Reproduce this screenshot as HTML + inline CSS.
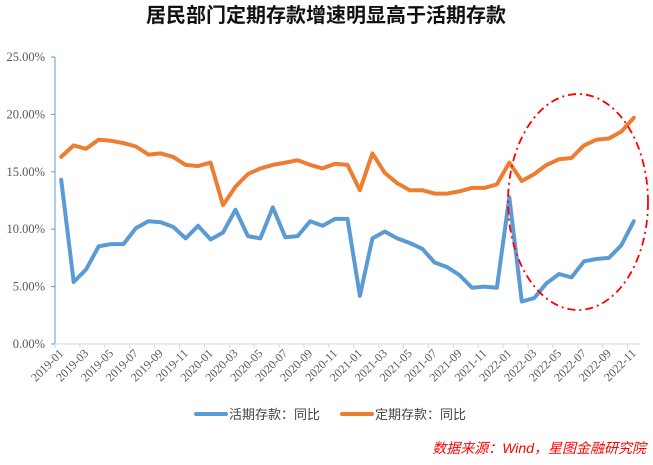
<!DOCTYPE html>
<html><head><meta charset="utf-8">
<style>
html,body{margin:0;padding:0;background:#fff;}
body{width:653px;height:460px;overflow:hidden;font-family:"Liberation Sans","Noto Sans CJK SC",sans-serif;}
</style></head>
<body>
<svg id="chart" width="653" height="460" xmlns="http://www.w3.org/2000/svg">
<text x="326" y="22" text-anchor="middle" font-size="20" font-weight="bold" font-family="Liberation Sans, Noto Sans CJK SC, sans-serif" fill="#111">居民部门定期存款增速明显高于活期存款</text>
<g id="axes"></g>
<g id="series"></g>
<ellipse cx="578" cy="202" rx="70" ry="108" fill="none" stroke="#ff0000" stroke-width="1.8" stroke-dasharray="8,4,2,4"/>
<g>
<line x1="196" y1="414" x2="226" y2="414" stroke="#5b9bd5" stroke-width="4" stroke-linecap="round"/>
<text x="229" y="419" font-size="13" fill="#444" font-family="Liberation Sans, Noto Sans CJK SC, sans-serif">活期存款：同比</text>
<line x1="342" y1="414" x2="372" y2="414" stroke="#ed7d31" stroke-width="4" stroke-linecap="round"/>
<text x="375" y="419" font-size="13" fill="#444" font-family="Liberation Sans, Noto Sans CJK SC, sans-serif">定期存款：同比</text>
</g>
<text x="646" y="453" text-anchor="end" font-size="14" font-style="italic" fill="#ff0000" font-family="Liberation Sans, Noto Sans CJK SC, sans-serif">数据来源：Wind，星图金融研究院</text>
</svg>
<script>
const categories = [];
for (let y = 2019; y <= 2022; y++) for (let m = 1; m <= 12; m++) { if (y === 2022 && m === 12) break; categories.push(y + '-' + String(m).padStart(2, '0')); }
const demandValues = [14.3,5.4,6.5,8.5,8.7,8.7,10.1,10.7,10.6,10.2,9.2,10.3,
 9.1,9.7,11.7,9.4,9.2,11.9,9.3,9.4,10.7,10.3,10.9,10.9,
 4.2,9.2,9.8,9.2,8.8,8.3,7.1,6.7,6.0,4.9,5.0,4.9,
 12.8,3.7,4.0,5.3,6.1,5.8,7.2,7.4,7.5,8.6,10.7];
const timeValues = [16.3,17.3,17.0,17.8,17.7,17.5,17.2,16.5,16.6,16.3,15.6,15.5,
 15.8,12.1,13.7,14.8,15.3,15.6,15.8,16.0,15.6,15.3,15.7,15.6,
 13.4,16.6,14.9,14.0,13.4,13.4,13.1,13.1,13.3,13.6,13.6,13.9,
 15.8,14.2,14.8,15.6,16.1,16.2,17.3,17.8,17.9,18.5,19.7];
const yTicks = [0,5,10,15,20,25];
const yTickLabels = ['0.00%','5.00%','10.00%','15.00%','20.00%','25.00%'];

const NS = 'http://www.w3.org/2000/svg';
const L = 55, R = 640, T = 57, B = 344;
const n = categories.length;
const band = (R - L) / n;
const xPos = i => L + band * (i + 0.5);
const yPos = v => B - (v / 25) * (B - T);
function mk(tag, attrs, parent) { const e = document.createElementNS(NS, tag); for (const k in attrs) e.setAttribute(k, attrs[k]); parent.appendChild(e); return e; }

const axes = document.getElementById('axes');
const yAxis = mk('line', {x1:L, y1:T, x2:L, y2:B, stroke:'#5b9bd5', 'stroke-width':1}, axes);


const xAxis = mk('line', {x1:L, y1:B, x2:R, y2:B, stroke:'#d9d9d9', 'stroke-width':1}, axes);


yTicks.forEach((v, i) => {
  const y = yPos(v);
  const tk = mk('line', {x1:L-4, y1:y, x2:L, y2:y, stroke:'#5b9bd5', 'stroke-width':1}, axes);
  
  
  const t = mk('text', {x:L-10, y:y+4, 'text-anchor':'end', 'font-size':12.5, fill:'#595959', 'font-family':'Liberation Serif, serif'}, axes);
  t.textContent = yTickLabels[i];
  
  
});
for (let i = 0; i <= n; i += 2) {
  const x = L + band * i;
  const tk = mk('line', {x1:x, y1:B, x2:x, y2:B+4, stroke:'#d9d9d9', 'stroke-width':1}, axes);
  
  
}
categories.forEach((c, i) => {
  if (i % 2) return;
  const x = xPos(i) + 3, y = B + 10;
  const t = mk('text', {x:x, y:y, 'text-anchor':'end', 'font-size':12, fill:'#595959', 'font-family':'Liberation Serif, serif', transform:'rotate(-45 ' + x + ' ' + y + ')'}, axes);
  t.textContent = c;
  
  
});

const series = document.getElementById('series');
function drawLine(vals, color, name) {
  const d = vals.map((v, i) => (i ? 'L' : 'M') + xPos(i).toFixed(1) + ' ' + yPos(v).toFixed(1)).join(' ');
  const p = mk('path', {d:d, fill:'none', stroke:color, 'stroke-width':4, 'stroke-linejoin':'round', 'stroke-linecap':'round'}, series);
  
  
}
drawLine(timeValues, '#ed7d31', 'time-deposit-line');
drawLine(demandValues, '#5b9bd5', 'demand-deposit-line');
</script>
</body></html>
